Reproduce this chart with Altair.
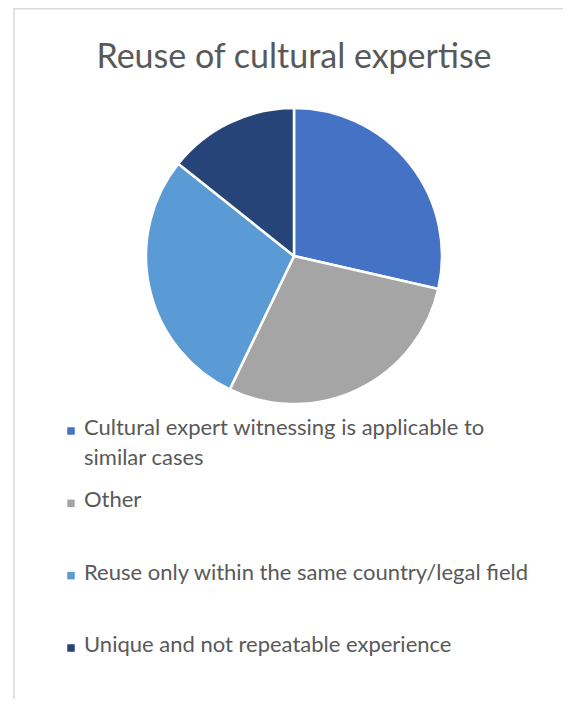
import altair as alt
import pandas as pd

title_text = "Reuse of cultural expertise"
categories = [
    "Cultural expert witnessing is applicable to similar cases",
    "Other",
    "Reuse only within the same country/legal field",
    "Unique and not repeatable experience",
]
legend_labels = [
    "Cultural expert witnessing is applicable to\nsimilar cases",
    "Other",
    "Reuse only within the same country/legal field",
    "Unique and not repeatable experience",
]
values = [2, 2, 2, 1]
colors = ["#4472C4", "#A5A5A5", "#5B9BD5", "#264478"]

df = pd.DataFrame({
    "category": categories,
    "label": legend_labels,
    "value": values,
    "idx": list(range(len(categories))),
})

W, H = 555, 691
color = alt.Color("category:N", scale=alt.Scale(domain=categories, range=colors), legend=None)
yleg = alt.Y("category:N", scale=alt.Scale(domain=categories, type="point", range=[423, 640], padding=0), axis=None)

pie = alt.Chart(df).mark_arc(stroke="white", strokeWidth=2.5, outerRadius=148).encode(
    theta=alt.Theta("value:Q", stack=True),
    order=alt.Order("idx:Q"),
    color=color,
    x=alt.value(286),
    y=alt.value(248),
)

squares = alt.Chart(df).mark_square(size=56, opacity=1).encode(
    x=alt.value(63),
    y=yleg,
    color=color,
)

texts = alt.Chart(df).mark_text(
    align="left", baseline="top", lineBreak="\n", font="Lato", fontSize=22,
    color="#595959", dy=-13, lineHeight=30,
).encode(
    x=alt.value(76),
    y=yleg,
    text="label:N",
)

frame_df = pd.DataFrame({"k": [0]})
left_rule = alt.Chart(frame_df).mark_rule(color="#D9D9D9", strokeWidth=1.5).encode(
    x=alt.value(6), y=alt.value(0), y2=alt.value(H)
)
top_rule = alt.Chart(frame_df).mark_rule(color="#D9D9D9", strokeWidth=1.5).encode(
    x=alt.value(6), x2=alt.value(W), y=alt.value(0.75)
)

title_df = pd.DataFrame({"t": [title_text]})
title = alt.Chart(title_df).mark_text(
    font="Lato", fontSize=34, fontWeight=400, color="#595959", align="center", baseline="alphabetic"
).encode(x=alt.value(286), y=alt.value(60), text="t:N")

chart = alt.layer(left_rule, top_rule, title, pie, squares, texts).properties(
    width=W, height=H, padding=0, autosize=alt.AutoSizeParams(type="none")
).configure_view(stroke=None)

chart.save("out.html", embed_options={"renderer": "svg", "actions": False})
